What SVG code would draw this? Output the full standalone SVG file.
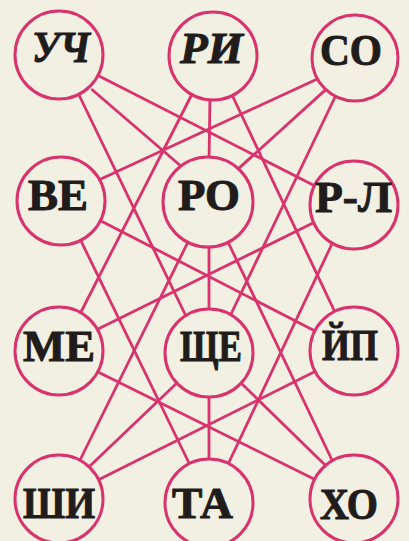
<svg xmlns="http://www.w3.org/2000/svg" width="409" height="541" viewBox="0 0 409 541">
<defs>
<style>
.bg{fill:#f2efe3}
.edge{stroke:#d9336d;stroke-width:2.8;stroke-linecap:round;fill:none}
.node circle{fill:#f2efe3;stroke:#d9336d;stroke-width:3}
.node text{font-family:"Liberation Serif","DejaVu Serif",serif;font-weight:bold;font-size:45px;fill:#1f1c1b;stroke:#1f1c1b;stroke-width:1;text-anchor:middle}
.it{font-style:italic}
</style>
</defs>
<rect class="bg" x="0" y="0" width="409" height="541"/>
<g id="connectors" class="edge">
<line x1="77.8" y1="92.5" x2="185.2" y2="314.5"/>
<line x1="92.2" y1="89.7" x2="185.8" y2="170.3"/>
<line x1="98.5" y1="75.7" x2="317.5" y2="187.3"/>
<line x1="192.3" y1="93.5" x2="79.7" y2="314.5"/>
<line x1="210" y1="95" x2="209" y2="163"/>
<line x1="230.9" y1="92.5" x2="335.1" y2="312.5"/>
<line x1="319.5" y1="77.9" x2="96.5" y2="181.1"/>
<line x1="325.7" y1="89.6" x2="234.3" y2="172.4"/>
<line x1="337.2" y1="92.5" x2="230.8" y2="314.5"/>
<line x1="98.6" y1="219.7" x2="317.4" y2="332.3"/>
<line x1="80.8" y1="240.5" x2="190.2" y2="465.5"/>
<line x1="189.2" y1="239.5" x2="79.8" y2="460.5"/>
<line x1="209" y1="241" x2="209" y2="314"/>
<line x1="226.8" y1="239.5" x2="332.2" y2="460.5"/>
<line x1="317.5" y1="220.8" x2="95.5" y2="330.2"/>
<line x1="333.1" y1="241.5" x2="227.9" y2="464.5"/>
<line x1="95.5" y1="370.8" x2="316.5" y2="480.2"/>
<line x1="180.6" y1="379.6" x2="89.4" y2="466.4"/>
<line x1="209" y1="392" x2="209" y2="464"/>
<line x1="237.4" y1="379.5" x2="325.6" y2="465.5"/>
<line x1="318.5" y1="369.8" x2="97.5" y2="480.2"/>
</g>
<g id="n-uch" class="node"><circle cx="59" cy="55" r="44"/><text class="it" x="61" y="62" textLength="58" lengthAdjust="spacingAndGlyphs">УЧ</text></g>
<g id="n-ri" class="node"><circle cx="213" cy="56" r="44"/><text class="it" x="211.5" y="63" textLength="63" lengthAdjust="spacingAndGlyphs">РИ</text></g>
<g id="n-so" class="node"><circle cx="355" cy="58" r="43"/><text x="351" y="65" textLength="62" lengthAdjust="spacingAndGlyphs">СО</text></g>
<g id="n-ve" class="node"><circle cx="61" cy="201" r="44"/><text x="58" y="210" textLength="60" lengthAdjust="spacingAndGlyphs">ВЕ</text></g>
<g id="n-ro" class="node"><circle cx="208" cy="202" r="45"/><text x="209" y="210" textLength="62" lengthAdjust="spacingAndGlyphs">РО</text></g>
<g id="n-rl" class="node"><circle cx="354" cy="205" r="44"/><text x="353.5" y="212" textLength="77" lengthAdjust="spacingAndGlyphs">Р-Л</text></g>
<g id="n-me" class="node"><circle cx="59" cy="351" r="44"/><text x="59" y="361" textLength="72" lengthAdjust="spacingAndGlyphs">МЕ</text></g>
<g id="n-shche" class="node"><circle cx="209" cy="353" r="44"/><text x="211" y="361" textLength="62" lengthAdjust="spacingAndGlyphs">ЩЕ</text></g>
<g id="n-ip" class="node"><circle cx="354" cy="351" r="44"/><text x="350" y="360" textLength="56" lengthAdjust="spacingAndGlyphs">ЙП</text></g>
<g id="n-shi" class="node"><circle cx="59" cy="499" r="44"/><text x="59" y="518" textLength="72" lengthAdjust="spacingAndGlyphs">ШИ</text></g>
<g id="n-ta" class="node"><circle cx="209" cy="503" r="44"/><text x="202.5" y="518" textLength="61" lengthAdjust="spacingAndGlyphs">ТА</text></g>
<g id="n-kho" class="node"><circle cx="354" cy="499" r="44"/><text x="349" y="519" textLength="58" lengthAdjust="spacingAndGlyphs">ХО</text></g>
</svg>
